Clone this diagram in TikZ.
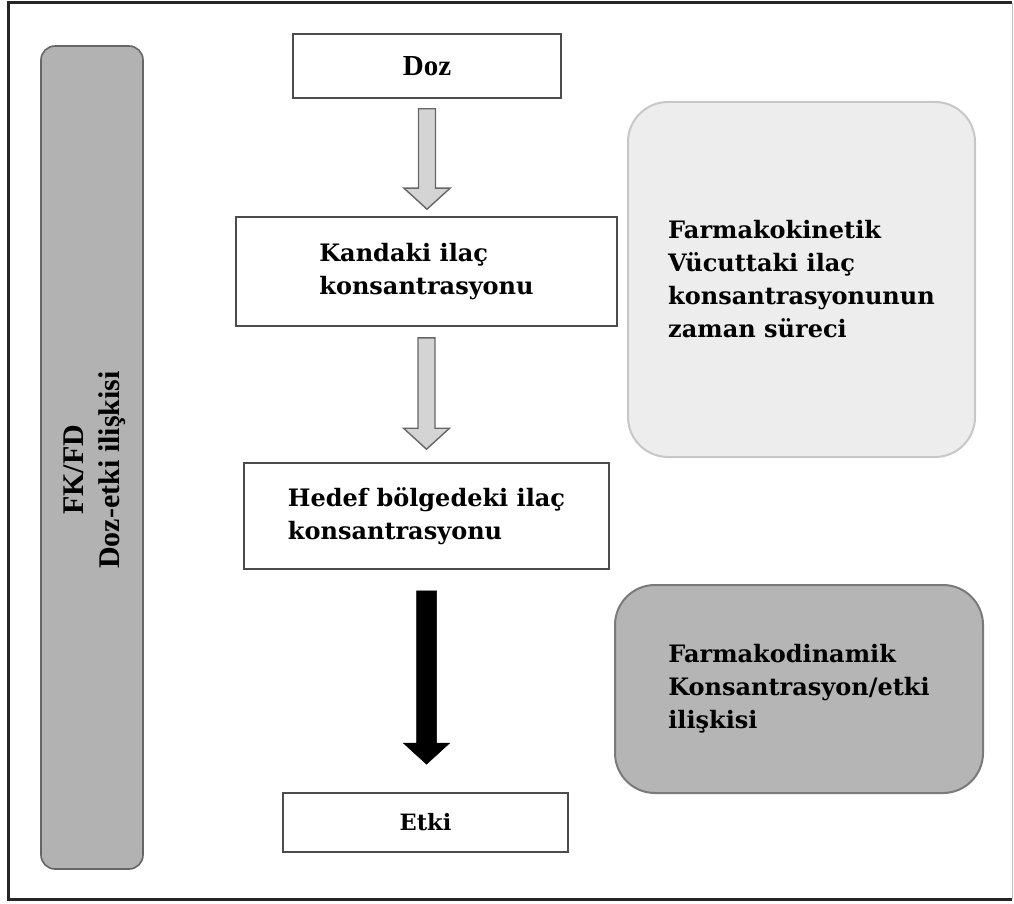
\documentclass[tikz,border=0pt]{standalone}
\usepackage{fontspec}
\setmainfont{DejaVu Serif}
\newfontfamily\timesyazi{Liberation Serif}
\usetikzlibrary{calc}

% blok ok: #1 bas, #2 uc, #3 stil, #4 govde yari genisligi
\newcommand{\blokok}[4]{%
  \draw[#3] let \p1=(#1), \p2=(#2) in
    (\x1-#4pt,\y1) -- (\x1+#4pt,\y1) -- (\x1+#4pt,\y2+21pt) -- (\x1+23pt,\y2+21pt)
    -- (\x1,\y2) -- (\x1-23pt,\y2+21pt) -- (\x1-#4pt,\y2+21pt) -- cycle;}

\begin{document}
\begin{tikzpicture}[x=1pt,y=-1pt,
  yazi/.style={font=\bfseries\fontsize{24}{33}\selectfont,align=left,inner sep=0pt},
  kutu/.style={yazi,draw=black!70,line width=1.6pt,fill=white},
  yuvarlak/.style={yazi,rounded corners=40pt,line width=2pt},
  griok/.style={draw=black!60,line width=1.4pt,fill=black!17},
  siyahok/.style={draw=black,fill=black,line width=0.5pt}]
		\useasboundingbox (0,0) rectangle (1014,904);
		\draw[line width=3pt,black!85] (1012,3) -- (8,3) -- (8,899) -- (1012,899); %cerceve
		\draw[black!25] (1012.5,3) -- (1012.5,899);
		\node[rounded corners=14pt,draw=black!60,line width=1.6pt,fill=black!30,minimum width=102,minimum height=823] (fkfd) at (92,457.5) {}; %sol cubuk
		\node[yazi,font=\timesyazi\bfseries\fontsize{30}{36}\selectfont,align=center,rotate=90] (fkfdyazi) at (95,470) {FK/FD\\Doz-etki ilişkisi};
		\node[kutu,font=\timesyazi\bfseries\fontsize{29}{33}\selectfont,minimum width=268,minimum height=64] (doz) at (427,66) {Doz}; %kutular
		\node[kutu,minimum width=381,minimum height=109] (kan) at (426.5,271.5) {Kandaki ilaç\\konsantrasyonu};
		\node[kutu,minimum width=365,minimum height=106] (hedef) at (426.5,516) {Hedef bölgedeki ilaç\\konsantrasyonu};
		\node[kutu,font=\bfseries\fontsize{22.5}{33}\selectfont,minimum width=285,minimum height=59] (etki) at (425.5,822.5) {Etki};
		\node[yuvarlak,draw=black!22,fill=black!7,minimum width=347,minimum height=355] (fk) at (801.5,279.5) {Farmakokinetik\\Vücuttaki ilaç\\konsantrasyonunun\\zaman süreci}; %FK
		\node[yuvarlak,draw=black!52,fill=black!29,minimum width=368,minimum height=208] (fd) at (799,689) {Farmakodinamik\\Konsantrasyon/etki\\ilişkisi}; %FD
		\blokok{$(doz.south)+(0,10)$}{$(kan.north)+(0,-7)$}{griok}{8.5} %oklar
		\blokok{$(kan.south)+(0,11)$}{$(hedef.north)+(0,-13)$}{griok}{8.5}
		\blokok{$(hedef.south)+(0,21)$}{$(etki.north)+(0,-28)$}{siyahok}{10}
\end{tikzpicture}
\end{document}
